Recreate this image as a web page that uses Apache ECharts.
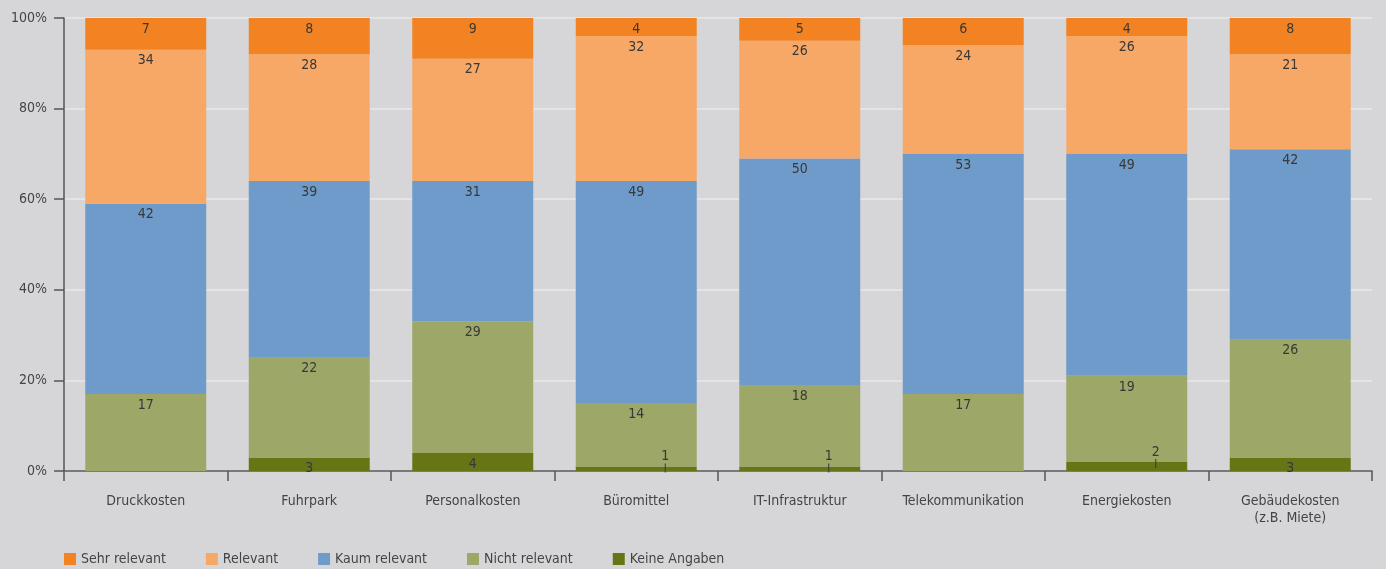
<!DOCTYPE html>
<html>
<head>
<meta charset="utf-8">
<script src="https://cdn.jsdelivr.net/npm/echarts@6/dist/echarts.min.js"></script>
<style>
  html, body { margin: 0; padding: 0; background: #d6d6d8; }
  #chart { width: 1386px; height: 569px; }
</style>
</head>
<body>
<div id="chart"></div>
<script>
// Kostenbereiche (Kategorien)
const categories = ['Druckkosten', 'Fuhrpark', 'Personalkosten', 'Büromittel',
  'IT-Infrastruktur', 'Telekommunikation', 'Energiekosten', 'Gebäudekosten\n(z.B. Miete)'];

// Anteile in Prozent je Kategorie
const keineAngaben  = [0, 3, 4, 1, 1, 0, 2, 3];
const nichtRelevant = [17, 22, 29, 14, 18, 17, 19, 26];
const kaumRelevant  = [42, 39, 31, 49, 50, 53, 49, 42];
const relevant      = [34, 28, 27, 32, 26, 24, 26, 21];
const sehrRelevant  = [7, 8, 9, 4, 5, 6, 4, 8];

const yTicks = [0, 20, 40, 60, 80, 100];

const FONT = '"DejaVu Sans Condensed", "Liberation Sans Narrow", Lato, sans-serif';
const labelStyle = {
  show: true,
  position: 'insideTop',
  distance: 4,
  color: '#383838',
  fontSize: 14,
  fontFamily: FONT,
  formatter: p => (p.value > 0 ? String(p.value) : '')
};

// very small segments get their value above the bar, with a short pointer line
function smallItems(values) {
  return values.map(v => {
    if (v > 0 && v <= 2) {
      return {
        value: v,
        label: {
          show: true,
          position: 'top',
          offset: [29, 10],
          formatter: '{n|' + v + '}\n{t|}',
          rich: {
            n: { color: '#383838', fontSize: 14, fontFamily: FONT, lineHeight: 14, align: 'center' },
            t: { width: 1, height: 9, backgroundColor: '#383838', align: 'center' }
          }
        }
      };
    }
    return v;
  });
}

const seriesDefs = [
  { name: 'Keine Angaben', data: smallItems(keineAngaben), color: '#687517' },
  { name: 'Nicht relevant', data: nichtRelevant, color: '#9da768' },
  { name: 'Kaum relevant', data: kaumRelevant, color: '#6e9bca' },
  { name: 'Relevant', data: relevant, color: '#f7a866' },
  { name: 'Sehr relevant', data: sehrRelevant, color: '#f38322' }
];

const chart = echarts.init(document.getElementById('chart'));
chart.setOption({
  backgroundColor: '#d6d6d8',
  animation: false,
  textStyle: { fontFamily: FONT },
  grid: { left: 64, right: 14, top: 18, bottom: 98, containLabel: false },
  legend: {
    data: ['Sehr relevant', 'Relevant', 'Kaum relevant', 'Nicht relevant', 'Keine Angaben'],
    left: 64,
    top: 552,
    padding: 0,
    icon: 'rect',
    itemWidth: 12,
    itemHeight: 12,
    itemGap: 40,
    textStyle: { color: '#444', fontSize: 14, fontFamily: FONT }
  },
  xAxis: {
    type: 'category',
    data: categories,
    axisLine: { lineStyle: { color: '#555', width: 1.5 } },
    axisTick: { show: true, length: 10, lineStyle: { color: '#555', width: 1.5 } },
    axisLabel: { color: '#444', fontSize: 14, fontFamily: FONT, margin: 22, lineHeight: 17, interval: 0 }
  },
  yAxis: {
    type: 'value',
    min: 0,
    max: 100,
    interval: 20,
    axisLine: { show: true, lineStyle: { color: '#555', width: 1.5 } },
    axisTick: { show: true, length: 10, lineStyle: { color: '#555', width: 1.5 } },
    splitLine: { show: true, lineStyle: { color: '#e8e8ea', width: 1.5 } },
    axisLabel: {
      color: '#444', fontSize: 14, fontFamily: FONT, margin: 17,
      formatter: v => (yTicks.includes(v) ? v + '%' : '')
    }
  },
  series: seriesDefs.map(s => ({
    name: s.name,
    type: 'bar',
    stack: 'total',
    barCategoryGap: '26%',
    data: s.data,
    itemStyle: { color: s.color },
    label: labelStyle,
    emphasis: { disabled: true }
  }))
});
</script>
</body>
</html>
